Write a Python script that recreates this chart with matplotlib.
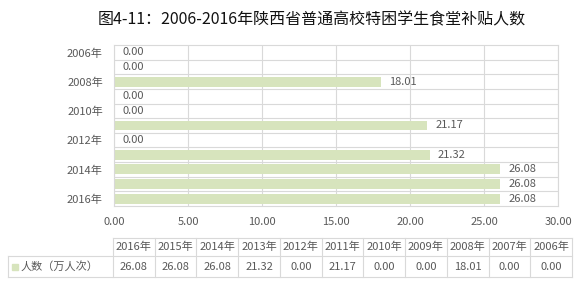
import matplotlib
matplotlib.use('Agg')
import matplotlib.pyplot as plt
from matplotlib.lines import Line2D

plt.rcParams['font.family'] = ['Noto Sans CJK SC', 'DejaVu Sans']

# data
years = ['2006年', '2007年', '2008年', '2009年', '2010年', '2011年',
         '2012年', '2013年', '2014年', '2015年', '2016年']
values = [0.00, 0.00, 18.01, 0.00, 0.00, 21.17, 0.00, 21.32, 26.08, 26.08, 26.08]
xticks = [0, 5, 10, 15, 20, 25, 30]
series_name = '人数（万人次）'
title = '图4-11：2006-2016年陕西省普通高校特困学生食堂补贴人数'

W, H = 588, 283
bar_color = '#d7e4bd'
grid_color = '#d9d9d9'
text_color = '#595959'
fs = 8

fig = plt.figure(figsize=(W / 100, H / 100), dpi=100)

# plot area in pixels
left, right, top, bottom = 114, 558, 45, 206
ax = fig.add_axes([left / W, 1 - bottom / H, (right - left) / W, (bottom - top) / H])

pos = list(range(len(years)))
ax.barh(pos, values, height=0.68, color=bar_color, zorder=2)
for p, v in zip(pos, values):
    ax.annotate('%.2f' % v, (v, p), xytext=(6, 0), textcoords='offset points',
                va='center', ha='left', fontsize=fs, color=text_color)

ax.set_xlim(0, 30)
ax.set_ylim(len(years) - 0.5, -0.5)
ax.set_xticks(xticks)
ax.set_xticklabels(['%.2f' % t for t in xticks], fontsize=fs, color=text_color)
ax.set_yticks(pos[::2])
ax.set_yticklabels(years[::2], fontsize=fs, color=text_color)
ax.set_yticks([p + 0.5 for p in pos[:-1]], minor=True)
ax.tick_params(axis='both', length=0, which='both')
ax.tick_params(axis='x', pad=8)
ax.tick_params(axis='y', pad=8)
ax.grid(axis='x', which='major', color=grid_color, linewidth=0.8, zorder=0)
ax.grid(axis='y', which='minor', color=grid_color, linewidth=0.8, zorder=0)
for s in ax.spines.values():
    s.set_color(grid_color)
    s.set_linewidth(0.8)

fig.text(312 / W, 1 - 20 / H, title, ha='center', va='center', fontsize=11.5, color='#111111')

# data table under the chart
t_left, t_right = 113, 572
head_top, row_mid, row_bot = 238, 256, 277
label_left = 8
n = len(years)
cw = (t_right - t_left) / n

def fx(x):
    return x / W

def fy(y):
    return 1 - y / H

lines = []
lines.append(((t_left, t_right), (head_top, head_top)))
lines.append(((label_left, t_right), (row_mid, row_mid)))
lines.append(((label_left, t_right), (row_bot, row_bot)))
lines.append(((label_left, label_left), (row_mid, row_bot)))
for i in range(n + 1):
    x = t_left + i * cw
    lines.append(((x, x), (head_top, row_bot)))
for xs, ys in lines:
    fig.add_artist(Line2D([fx(xs[0]), fx(xs[1])], [fy(ys[0]), fy(ys[1])],
                          color=grid_color, linewidth=0.8))

for i, (yr, v) in enumerate(zip(years[::-1], values[::-1])):
    cx = t_left + (i + 0.5) * cw
    fig.text(fx(cx), fy((head_top + row_mid) / 2), yr, ha='center', va='center',
             fontsize=fs, color=text_color)
    fig.text(fx(cx), fy((row_mid + row_bot) / 2), '%.2f' % v, ha='center', va='center',
             fontsize=fs, color=text_color)

fig.add_artist(plt.Rectangle((fx(12), fy(270)), 6 / W, 6 / H, color=bar_color))
fig.text(fx(21), fy((row_mid + row_bot) / 2), series_name, ha='left', va='center',
         fontsize=fs, color=text_color)

fig.savefig('out.png', dpi=100)
